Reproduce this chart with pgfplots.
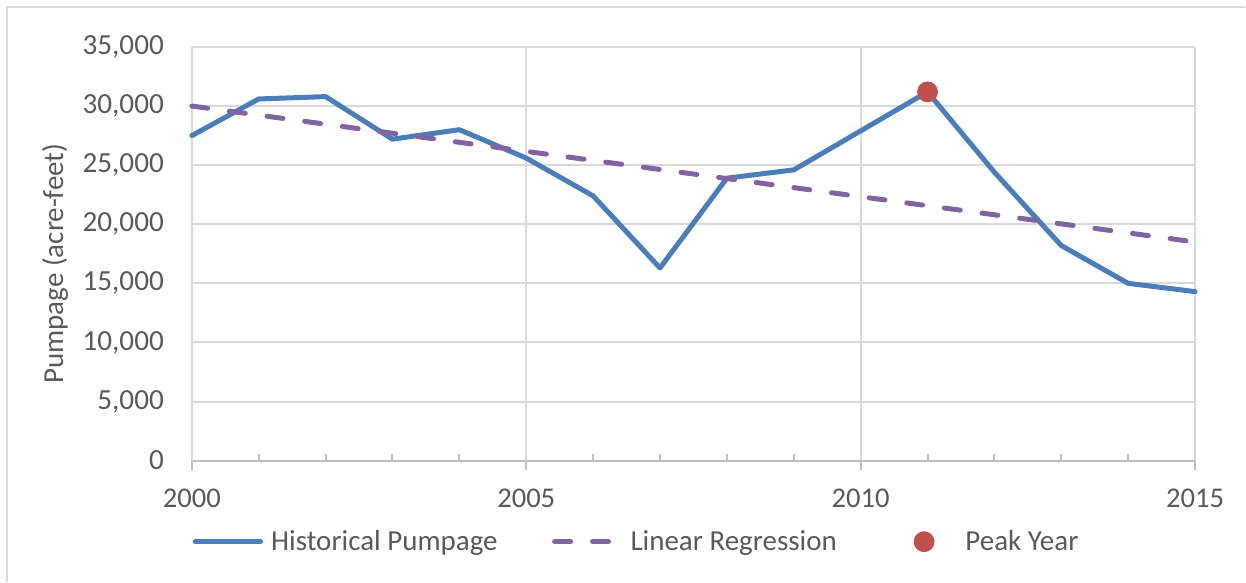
\documentclass[border=0pt]{standalone}
\usepackage{fontspec}
\setmainfont{Carlito}
\usepackage{pgfplots}
\pgfplotsset{compat=1.18}

\definecolor{histblue}{HTML}{4A7EBB}
\definecolor{regpurple}{HTML}{8064A2}
\definecolor{peakred}{HTML}{C0504D}
\definecolor{txtgray}{HTML}{595959}
\definecolor{gridgray}{HTML}{D9D9D9}
\definecolor{axisgray}{HTML}{BFBFBF}

\begin{document}
\begin{tikzpicture}
  \begin{axis}[
    scale only axis,
    width=502pt, height=207pt,
    xmin=2000, xmax=2015,
    ymin=0, ymax=35000,
    xtick={2000,2005,2010,2015},
    minor x tick num=4,
    ytick={0,5000,10000,15000,20000,25000,30000,35000},
    scaled y ticks=false,
    /pgf/number format/assume math mode=true,
    yticklabel style={/pgf/number format/1000 sep={,}, font=\fontsize{14.6}{16}\selectfont, text=txtgray, xshift=-6pt},
    xticklabel style={/pgf/number format/1000 sep={}, font=\fontsize{14.3}{16}\selectfont, text=txtgray, yshift=-6pt},
    axis x line=bottom, axis y line=left,
    x axis line style={draw=axisgray, line width=1pt, -},
    y axis line style={draw=gridgray, line width=1pt, -},
    ymajorgrids, xmajorgrids,
    major grid style={draw=gridgray, line width=1pt},
    tick align=outside,
    major tick length=4.5pt,
    minor tick length=3.5pt,
    xtick style={draw=axisgray, line width=1pt},
    minor x tick style={draw=axisgray, line width=1pt, yshift=3.5pt},
    ytick style={draw=none},
    ylabel={Pumpage (acre-feet)},
    ylabel style={at={(axis description cs:-0.1365,0.476)}, anchor=center, rotate=0, font=\fontsize{14.5}{16}\selectfont, text=txtgray},
    clip=false,
    legend columns=3,
    legend style={at={(axis description cs:0.443,-0.196)}, anchor=center, draw=none, fill=none,
      font=\fontsize{14.5}{16}\selectfont, text=txtgray,
      /tikz/every even column/.append style={column sep=24pt},
      cells={anchor=west}},
  ]
    \addplot[histblue, line width=2.5pt, line join=round, line cap=round,
      legend image code/.code={\draw[histblue, line width=2.5pt, line cap=round] (1.25pt,0) -- (34pt,0); \path (0,0) (36pt,0);}]
      coordinates {
      (2000,27500) (2001,30600) (2002,30800) (2003,27200) (2004,28000)
      (2005,25600) (2006,22400) (2007,16300) (2008,23900) (2009,24600)
      (2010,27900) (2011,31200) (2012,24400) (2013,18200) (2014,15000)
      (2015,14300)
    };
    \addlegendentry{Historical Pumpage}
    \addplot[regpurple, line width=2.5pt, dash pattern=on 8pt off 11pt, line cap=round,
      legend image code/.code={\draw[regpurple, line width=2.5pt, line cap=round, dash pattern=on 8pt off 11pt] (1.25pt,0) -- (35pt,0); \path (0,0) (36pt,0);}]
      coordinates {(2000,30000) (2015,18500)};
    \addlegendentry{Linear Regression}
    \addplot[only marks, mark=*, mark size=5pt, mark options={draw=peakred, fill=peakred},
      legend image code/.code={\fill[peakred] (17.5pt,0) circle[radius=5pt]; \path (0,0) (36pt,0);}]
      coordinates {(2011,31200)};
    \addlegendentry{Peak Year}
  \end{axis}
  \draw[gridgray, line width=1pt] (-92.5pt,-60.5pt) -- (-92.5pt,227pt) -- (527pt,227pt);
  \useasboundingbox (-96pt,-60.5pt) rectangle (527pt,230.5pt);
\end{tikzpicture}
\end{document}
